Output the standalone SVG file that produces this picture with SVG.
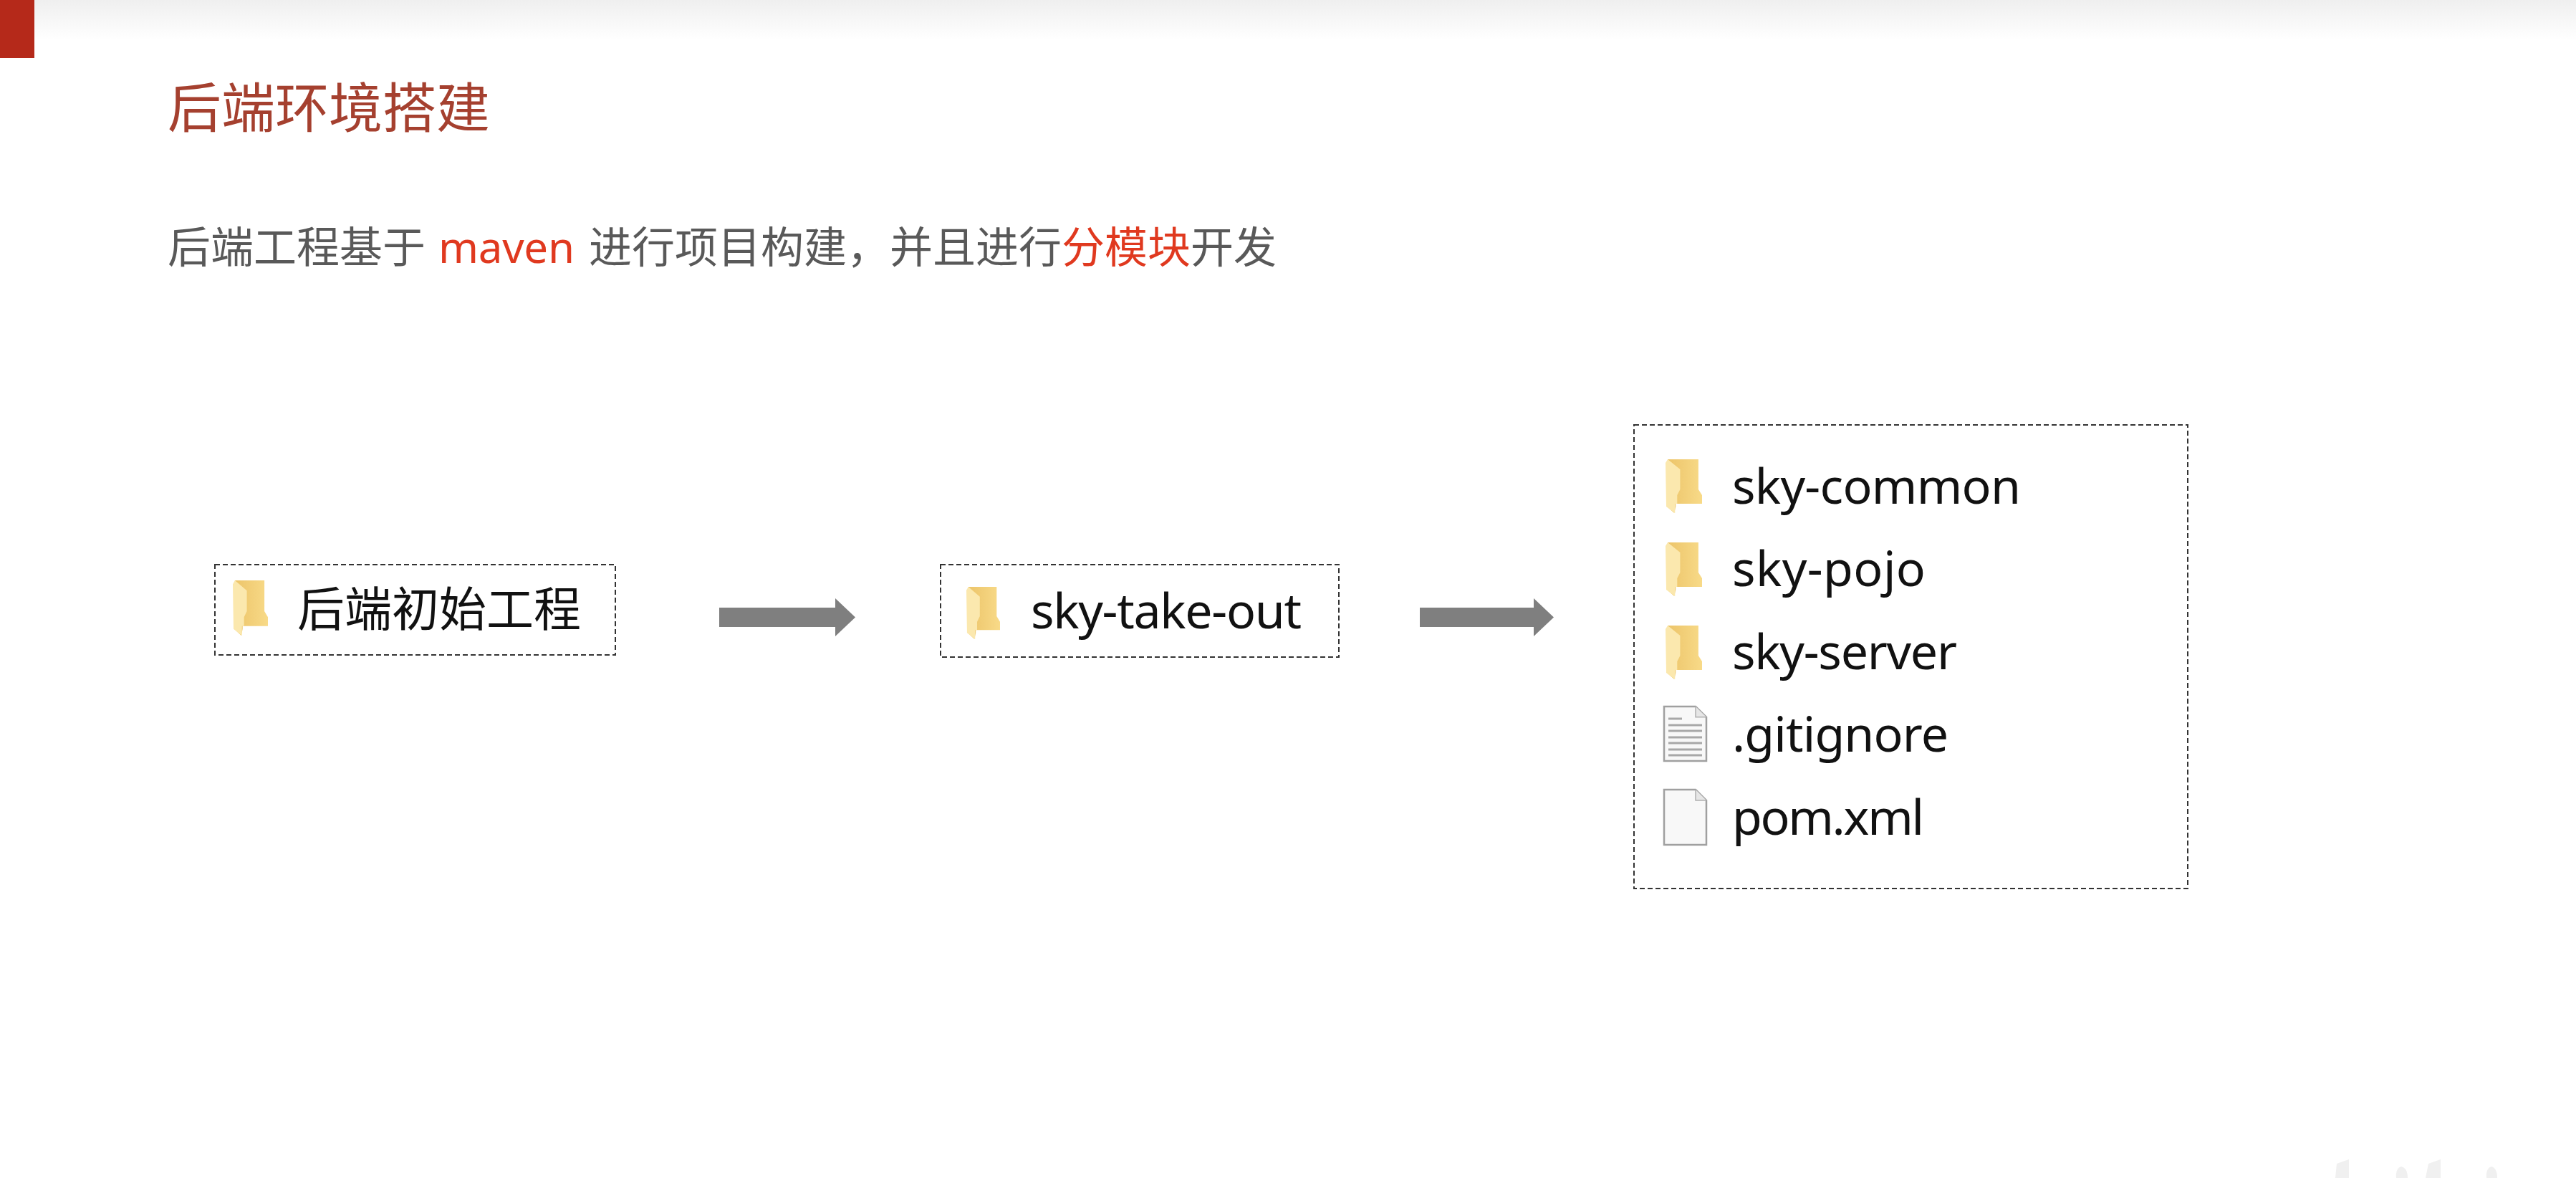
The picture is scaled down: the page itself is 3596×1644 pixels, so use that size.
<svg xmlns="http://www.w3.org/2000/svg" width="3596" height="1644" viewBox="0 0 3596 1644">
<style>
text{font-family:"Noto Sans","Noto Sans CJK SC",sans-serif}
.cjk{font-family:"Noto Sans CJK SC","Noto Sans",sans-serif}
.title{font-size:75px;fill:#a5402f}
.sub{font-size:60px;fill:#595959}
.hl{fill:#e0391f}
.lbl{font-size:68px;fill:#111}
.box{fill:#fff;stroke:#333;stroke-width:2;stroke-dasharray:7 4}
.arrow{fill:#7f7f7f}
.wm{fill:#f0f0f0}
</style>
<defs>
<linearGradient id="top" x1="0" y1="0" x2="0" y2="1"><stop offset="0" stop-color="#efefef"/><stop offset="1" stop-color="#fff"/></linearGradient>
<linearGradient id="fold" x1="0" y1="0" x2="1" y2="0"><stop offset="0" stop-color="#ecc469"/><stop offset="1" stop-color="#f8da88"/></linearGradient>
<symbol id="folder" viewBox="0 0 50 75" preserveAspectRatio="none" overflow="visible">
<path fill="url(#fold)" d="M3 0H45V42L50 50V62H14V66L12 75L2 66Z"/>
<path fill="#fbe8ae" d="M0 5L3 0L20 14V42L16 50V62H13V75L1 66Z"/>
</symbol>
<symbol id="doc" viewBox="0 0 61 80" preserveAspectRatio="none" overflow="visible">
<path fill="#f8f8f8" stroke="#a0a0a0" stroke-width="2.5" d="M1 1H45L60 16V78H1Z"/>
<path fill="#e6e6e6" stroke="#b0b0b0" stroke-width="1.5" d="M45 1V16H60"/>
</symbol>
</defs>
<rect width="3596" height="1644" fill="#fff"/>
<rect id="top-band" width="3596" height="56" fill="url(#top)"/>
<rect id="corner" width="48" height="81" fill="#b5291a"/>
<text class="title cjk" x="234" y="178">后端环境搭建</text>
<text class="sub cjk" y="367"><tspan x="234">后端工程基于</tspan><tspan x="612" class="hl" font-family="Noto Sans" textLength="190">maven</tspan><tspan x="822">进行项目构建，并且进行</tspan><tspan x="1482" class="hl">分模块</tspan><tspan x="1662">开发</tspan></text>
<g id="connectors">
<path class="arrow" d="M1004 848H1166V835L1194 861.5L1166 888V875H1004Z"/>
<path class="arrow" d="M1982 848H2141V835L2169 861.5L2141 888V875H1982Z"/>
</g>
<g id="node-initial">
<rect class="box" x="300" y="788" width="559" height="126"/>
<use href="#folder" x="325" y="810" width="49" height="77"/>
<text class="cjk" x="415" y="874" font-size="66" fill="#111">后端初始工程</text>
</g>
<g id="node-sky-take-out">
<rect class="box" x="1313" y="788" width="556" height="129"/>
<use href="#folder" x="1349" y="819" width="47" height="73"/>
<text class="lbl" x="1439" y="877" textLength="378">sky-take-out</text>
</g>
<g id="node-modules">
<rect class="box" x="2281" y="593" width="773" height="647"/>
<g id="item-common"><use href="#folder" x="2325" y="641" width="51" height="75"/><text class="lbl" x="2418" y="703" textLength="403">sky-common</text></g>
<g id="item-pojo"><use href="#folder" x="2325" y="757" width="51" height="75"/><text class="lbl" x="2418" y="818" textLength="270">sky-pojo</text></g>
<g id="item-server"><use href="#folder" x="2325" y="873" width="51" height="75"/><text class="lbl" x="2418" y="934" textLength="314">sky-server</text></g>
<g id="item-gitignore"><use href="#doc" x="2322" y="985" width="61" height="79"/>
<path stroke="#a8a8a8" stroke-width="3" fill="none" d="M2329 1003H2348M2329 1012H2376M2329 1020H2376M2329 1029H2376M2329 1037H2376M2329 1046H2376M2329 1054H2376"/>
<text class="lbl" x="2418" y="1049" textLength="302">.gitignore</text></g>
<g id="item-pom"><use href="#doc" x="2322" y="1101" width="61" height="80"/><text class="lbl" x="2418" y="1165" textLength="268">pom.xml</text></g>
</g>
<g id="corner-marks">
<path class="wm" d="M3279 1618L3262 1624L3260 1644H3279Z"/>
<path class="wm" d="M3352 1628Q3344 1630 3345 1644H3361Q3361 1630 3352 1628Z"/>
<path class="wm" d="M3407 1618L3390 1624L3386 1644H3407Z"/>
<path class="wm" d="M3478 1628Q3470 1630 3471 1644H3486Q3486 1630 3478 1628Z"/>
</g>
</svg>
